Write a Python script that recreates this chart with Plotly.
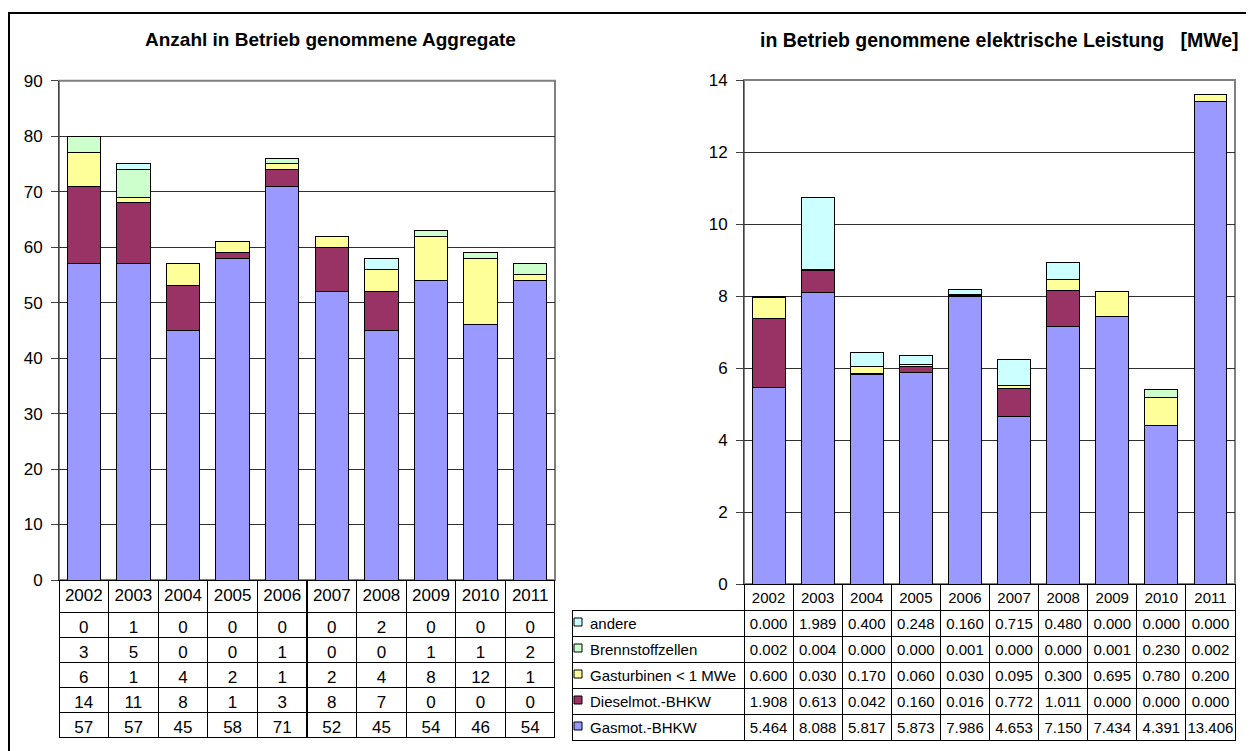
import plotly.graph_objects as go

W, H = 1254, 751
OFF = 8  # page body margin offset

years = ["2002", "2003", "2004", "2005", "2006", "2007", "2008", "2009", "2010", "2011"]
series_names = ["andere", "Brennstoffzellen", "Gasturbinen < 1 MWe", "Dieselmot.-BHKW", "Gasmot.-BHKW"]
series_colors = ["#CCFFFF", "#CCFFCC", "#FFFF99", "#993366", "#9999FF"]

# Anzahl (count of units)
cnt_andere = [0, 1, 0, 0, 0, 0, 2, 0, 0, 0]
cnt_brenn = [3, 5, 0, 0, 1, 0, 0, 1, 1, 2]
cnt_gasturb = [6, 1, 4, 2, 1, 2, 4, 8, 12, 1]
cnt_diesel = [14, 11, 8, 1, 3, 8, 7, 0, 0, 0]
cnt_gasmot = [57, 57, 45, 58, 71, 52, 45, 54, 46, 54]

# Leistung (MWe)
mw_andere = [0.000, 1.989, 0.400, 0.248, 0.160, 0.715, 0.480, 0.000, 0.000, 0.000]
mw_brenn = [0.002, 0.004, 0.000, 0.000, 0.001, 0.000, 0.000, 0.001, 0.230, 0.002]
mw_gasturb = [0.600, 0.030, 0.170, 0.060, 0.030, 0.095, 0.300, 0.695, 0.780, 0.200]
mw_diesel = [1.908, 0.613, 0.042, 0.160, 0.016, 0.772, 1.011, 0.000, 0.000, 0.000]
mw_gasmot = [5.464, 8.088, 5.817, 5.873, 7.986, 4.653, 7.150, 7.434, 4.391, 13.406]

left_title = "Anzahl in Betrieb genommene Aggregate"
right_title = "in Betrieb genommene elektrische Leistung\u00a0\u00a0 [MWe]"

cnt_rows = [cnt_andere, cnt_brenn, cnt_gasturb, cnt_diesel, cnt_gasmot]
mw_rows = [mw_andere, mw_brenn, mw_gasturb, mw_diesel, mw_gasmot]

FONT = "Liberation Sans, Arial, sans-serif"


def px_x(p):
    return (p - OFF) / W


def px_y(p):
    return 1 - (p - OFF) / H


# geometry (screen pixels)
L_X0, L_X1, L_Y0, L_Y1 = 59, 555, 580, 80.7
R_X0, R_X1, R_Y0, R_Y1 = 744, 1235, 584, 80
R_TAB_X0 = 572
R_ROW_H = 26

fig = go.Figure()

# stacked bars: bottom series first
for idx in [4, 3, 2, 1, 0]:
    fig.add_trace(go.Bar(
        x=years, y=cnt_rows[idx], name=series_names[idx],
        marker=dict(color=series_colors[idx], line=dict(color="#000000", width=1)),
        xaxis="x", yaxis="y", showlegend=False, hoverinfo="x+y+name"))
for idx in [4, 3, 2, 1, 0]:
    fig.add_trace(go.Bar(
        x=years, y=mw_rows[idx], name=series_names[idx],
        marker=dict(color=series_colors[idx], line=dict(color="#000000", width=1)),
        xaxis="x2", yaxis="y2", showlegend=False, hoverinfo="x+y+name"))

# left data table
fig.add_trace(go.Table(
    domain=dict(x=[px_x(L_X0), px_x(L_X1)], y=[0, px_y(L_Y0)]),
    columnwidth=[1] * len(years),
    header=dict(values=years, height=32, align="center",
                fill=dict(color="white"), line=dict(color="#000000", width=1),
                font=dict(family=FONT, size=17, color="black")),
    cells=dict(values=[[r[i] for r in cnt_rows] for i in range(len(years))],
               height=25, align="center",
               fill=dict(color="white"), line=dict(color="#000000", width=1),
               font=dict(family=FONT, size=17, color="black")),
))

# right data table (first column = legend column; its labels are drawn as text below)
val_cols = [["%.3f" % r[i] for r in mw_rows] for i in range(len(years))]
fig.add_trace(go.Table(
    domain=dict(x=[px_x(R_TAB_X0), px_x(R_X1)], y=[0, px_y(R_Y0)]),
    columnwidth=[R_X0 - R_TAB_X0] + [(R_X1 - R_X0) / len(years)] * len(years),
    header=dict(values=[""] + years, height=R_ROW_H, align="center",
                fill=dict(color=["rgba(0,0,0,0)"] + ["white"] * len(years)),
                line=dict(color=["rgba(0,0,0,0)"] + ["#000000"] * len(years), width=1),
                font=dict(family=FONT, size=15, color="black")),
    cells=dict(values=[[""] * len(series_names)] + val_cols, height=R_ROW_H,
               align="center",
               fill=dict(color="white"), line=dict(color="#000000", width=1),
               font=dict(family=FONT, size=15, color="black")),
))

shapes = []
# outer frame
shapes.append(dict(type="rect", xref="paper", yref="paper",
                   x0=px_x(9), x1=px_x(1247), y0=-0.1, y1=px_y(13),
                   line=dict(color="black", width=2), fillcolor="rgba(0,0,0,0)", layer="below"))
# plot area borders
for xr, yr in [("x", "y"), ("x2", "y2")]:
    shapes.append(dict(type="rect", xref=xr + " domain", yref=yr + " domain",
                       x0=0, x1=1, y0=0, y1=1,
                       line=dict(color="#808080", width=2), layer="below"))

annotations = [
    dict(text="<b>" + left_title + "</b>", xref="paper", yref="paper",
         x=px_x(330), y=px_y(40), xanchor="center", yanchor="middle", showarrow=False,
         font=dict(family=FONT, size=19, color="black")),
    dict(text="<b>" + right_title + "</b>", xref="paper", yref="paper",
         x=px_x(1241), y=px_y(40), xanchor="right", yanchor="middle", showarrow=False,
         font=dict(family=FONT, size=19.5, color="black")),
]

# legend keys + labels in the right table's first column
for i, (name, c) in enumerate(zip(series_names, series_colors)):
    yc = R_Y0 + R_ROW_H + R_ROW_H * i + R_ROW_H / 2
    shapes.append(dict(type="rect", xref="paper", yref="paper",
                       x0=px_x(574), x1=px_x(582), y0=px_y(yc + 3), y1=px_y(yc - 5),
                       line=dict(color="#000000", width=1), fillcolor=c, layer="above"))
    annotations.append(dict(text=name.replace("<", "&lt;"), xref="paper", yref="paper",
                            x=px_x(588), y=px_y(yc), xanchor="left", yanchor="middle",
                            showarrow=False, font=dict(family=FONT, size=15, color="black")))

axis_common_y = dict(showgrid=True, gridcolor="#303030", gridwidth=1,
                     ticks="outside", ticklen=7, tickcolor="#404040",
                     ticklabelstandoff=5,
                     showline=True, linecolor="#404040", linewidth=1,
                     zeroline=False, automargin=False,
                     tickfont=dict(family=FONT, size=17, color="black"))
axis_common_x = dict(type="category", showticklabels=False, ticks="",
                     showline=True, linecolor="#000000", linewidth=1,
                     showgrid=False, zeroline=False, automargin=False,
                     range=[-0.5, 9.5])

fig.update_layout(
    template="none",
    width=W, height=H,
    margin=dict(l=0, r=0, t=0, b=0, pad=0, autoexpand=False),
    paper_bgcolor="white", plot_bgcolor="white",
    barmode="stack", bargap=0.33,
    font=dict(family=FONT, color="black"),
    xaxis=dict(domain=[px_x(L_X0), px_x(L_X1)], anchor="y", **axis_common_x),
    yaxis=dict(domain=[px_y(L_Y0), px_y(L_Y1)], anchor="x", range=[0, 90], dtick=10,
               **axis_common_y),
    xaxis2=dict(domain=[px_x(R_X0), px_x(R_X1)], anchor="y2", **axis_common_x),
    yaxis2=dict(domain=[px_y(R_Y0), px_y(R_Y1)], anchor="x2", range=[0, 14], dtick=2,
                **axis_common_y),
    shapes=shapes,
    annotations=annotations,
    showlegend=False,
)

fig.write_html("out.html")
